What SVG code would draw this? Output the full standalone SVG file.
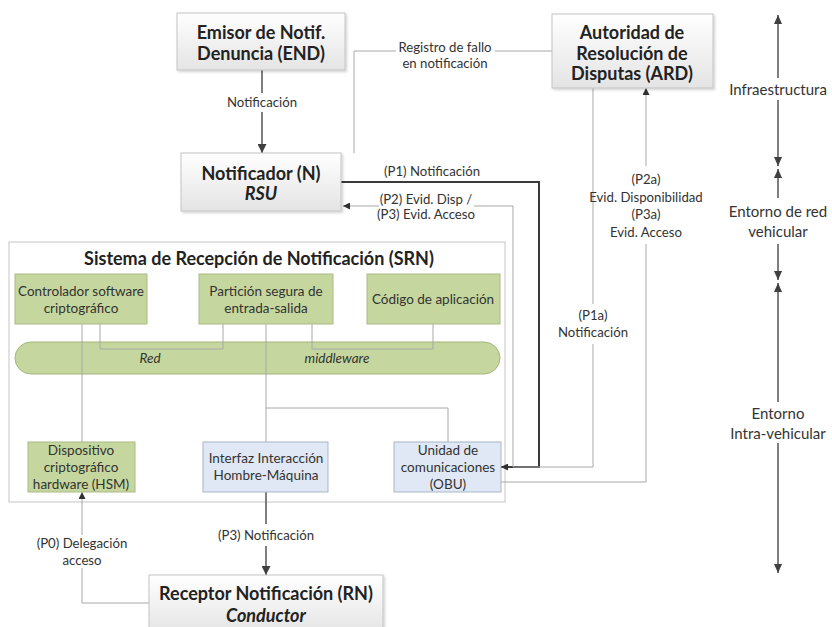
<svg xmlns="http://www.w3.org/2000/svg" width="832" height="627" viewBox="0 0 832 627">
  <defs>
    <linearGradient id="gradGray" x1="0" y1="0" x2="0" y2="1">
      <stop offset="0" stop-color="#ffffff"/>
      <stop offset="1" stop-color="#e4e4e4"/>
    </linearGradient>
    <filter id="shadow" x="-5%" y="-5%" width="115%" height="120%">
      <feDropShadow dx="1.5" dy="1.5" stdDeviation="1.2" flood-color="#000" flood-opacity="0.18"/>
    </filter>
    <marker id="arrowDark" viewBox="0 0 10 10" refX="10" refY="5" markerWidth="9" markerHeight="9" markerUnits="userSpaceOnUse" orient="auto">
      <path d="M0,0 L10,5 L0,10 z" fill="#404040"/>
    </marker>
    <marker id="arrowSmall" viewBox="0 0 10 10" refX="10" refY="5" markerWidth="7" markerHeight="7" markerUnits="userSpaceOnUse" orient="auto">
      <path d="M0,0 L10,5 L0,10 z" fill="#303030"/>
    </marker>
    <marker id="arrowEnv" viewBox="0 0 10 10" refX="10" refY="5" markerWidth="11" markerHeight="9" markerUnits="userSpaceOnUse" orient="auto">
      <path d="M0,0.5 L10,5 L0,9.5 z" fill="#404040"/>
    </marker>
  </defs>
  <style>
    text { font-family: Lato, "Noto Sans", "Liberation Sans", sans-serif; fill: #222; dominant-baseline: central; text-anchor: middle; }
    .title { font-size: 18px; font-weight: bold; }
    .titleI { font-size: 18px; font-weight: bold; font-style: italic; }
    .lbl { font-size: 13.2px; fill: #333; }
    .box { font-size: 13.5px; fill: #333; }
    .it { font-style: italic; }
    .env { font-size: 15px; fill: #333; }
    .gray { fill: url(#gradGray); stroke: #c4c4c4; stroke-width: 1; filter: url(#shadow); }
    .green { fill: #c5d79e; stroke: #a9bb85; stroke-width: 1; }
    .blue { fill: #dfe8f4; stroke: #aab6c6; stroke-width: 1; }
    .frame { fill: #ffffff; stroke: #cfcfcf; stroke-width: 1.2; }
    .thin { fill: none; stroke: #a8a8a8; stroke-width: 1; }
    .mid { fill: none; stroke: #555; stroke-width: 1.5; }
    .thick { fill: none; stroke: #3a3a3a; stroke-width: 2; }
    .envline { fill: none; stroke: #555; stroke-width: 1.5; }
  </style>

  <!-- Receiving system frame -->
  <g id="srn">
    <rect class="frame" x="9" y="242" width="496" height="260"/>
    <text class="title" x="259" y="258">Sistema de Recepción de Notificación (SRN)</text>
  </g>

  <!-- middleware bus -->
  <g id="middleware">
    <rect x="15" y="342" width="485" height="32" rx="16" ry="16" fill="#c5d79e" stroke="#a3b57c" stroke-width="1"/>
    <text class="box it" x="150" y="358">Red</text>
    <text class="box it" x="337" y="358">middleware</text>
  </g>

  <!-- connectors -->
  <g id="connectors">
    <!-- END to N -->
    <path class="mid" d="M262,70 V93"/>
    <path class="mid" d="M262,112 V153" marker-end="url(#arrowDark)"/>
    <!-- failure log N to ARD -->
    <path class="thin" d="M354,153 V51 H396"/>
    <path class="thin" d="M495,51 H552"/>
    <!-- P1 N to OBU -->
    <path class="thick" d="M341,182 H539 V467 H501" marker-end="url(#arrowSmall)"/>
    <!-- P2/P3 OBU to N -->
    <path class="thin" d="M539,467 H513 V206 H474"/>
    <path class="thin" d="M379,206 H343" marker-end="url(#arrowSmall)"/>
    <!-- P1a ARD to OBU -->
    <path class="thin" d="M593,88 V304"/>
    <path class="thin" d="M593,344 V467 H539"/>
    <!-- P2a/P3a OBU to ARD -->
    <path class="thin" d="M501,482 H646 V244"/>
    <path class="thin" d="M646,166 V88" marker-end="url(#arrowSmall)"/>
    <!-- internal links -->
    <path class="thin" d="M100,324 V349 H223 V324"/>
    <path class="thin" d="M312,324 V349 H433 V324"/>
    <path class="thin" d="M82,324 V442"/>
    <path class="thin" d="M266,324 V442"/>
    <path class="thin" d="M266,408 H448 V442"/>
    <!-- P3 interface to RN -->
    <path class="mid" d="M266,492 V524"/>
    <path class="mid" d="M266,546 V575" marker-end="url(#arrowDark)"/>
    <!-- P0 RN to HSM -->
    <path class="thin" d="M149,603 H82 V568"/>
    <path class="thin" d="M82,535 V492" marker-end="url(#arrowSmall)"/>
    <!-- environment ranges -->
    <path class="envline" d="M778,78 V15" marker-end="url(#arrowEnv)"/>
    <path class="envline" d="M778,100 V166" marker-end="url(#arrowEnv)"/>
    <path class="envline" d="M778,198 V169" marker-end="url(#arrowEnv)"/>
    <path class="envline" d="M778,244 V280" marker-end="url(#arrowEnv)"/>
    <path class="envline" d="M778,402 V283" marker-end="url(#arrowEnv)"/>
    <path class="envline" d="M778,443 V573" marker-end="url(#arrowEnv)"/>
  </g>

  <!-- connector labels -->
  <g id="labels">
    <text class="lbl" x="262" y="102">Notificación</text>
    <text class="lbl" x="445" y="47">Registro de fallo</text>
    <text class="lbl" x="445" y="63">en notificación</text>
    <text class="lbl" x="432" y="171">(P1) Notificación</text>
    <text class="lbl" x="426" y="199">(P2) Evid. Disp /</text>
    <text class="lbl" x="426" y="214">(P3) Evid. Acceso</text>
    <text class="lbl" x="646" y="179">(P2a)</text>
    <text class="lbl" x="646" y="197">Evid. Disponibilidad</text>
    <text class="lbl" x="646" y="214">(P3a)</text>
    <text class="lbl" x="646" y="232">Evid. Acceso</text>
    <text class="lbl" x="593" y="315">(P1a)</text>
    <text class="lbl" x="593" y="332">Notificación</text>
    <text class="lbl" x="266" y="535">(P3) Notificación</text>
    <text class="lbl" x="82" y="543">(P0) Delegación</text>
    <text class="lbl" x="82" y="560">acceso</text>
    <text class="env" x="778" y="89">Infraestructura</text>
    <text class="env" x="778" y="211">Entorno de red</text>
    <text class="env" x="778" y="231">vehicular</text>
    <text class="env" x="778" y="413">Entorno</text>
    <text class="env" x="778" y="433">Intra-vehicular</text>
  </g>

  <!-- top-level actors -->
  <g id="end">
    <rect class="gray" x="177" y="13" width="168" height="57"/>
    <text class="title" x="261" y="32">Emisor de Notif.</text>
    <text class="title" x="261" y="53">Denuncia (END)</text>
  </g>
  <g id="notificador">
    <rect class="gray" x="181" y="153" width="160" height="58"/>
    <text class="title" x="261" y="173">Notificador (N)</text>
    <text class="titleI" x="261" y="193">RSU</text>
  </g>
  <g id="ard">
    <rect class="gray" x="552" y="14" width="161" height="74"/>
    <text class="title" x="632" y="32">Autoridad de</text>
    <text class="title" x="632" y="53">Resolución de</text>
    <text class="title" x="632" y="73">Disputas (ARD)</text>
  </g>
  <g id="rn">
    <rect class="gray" x="149" y="575" width="234" height="60"/>
    <text class="title" x="266" y="593">Receptor Notificación (RN)</text>
    <text class="titleI" x="266" y="615">Conductor</text>
  </g>

  <!-- software components -->
  <g id="controlador">
    <rect class="green" x="15" y="274" width="132" height="50"/>
    <text class="box" x="81" y="291">Controlador software</text>
    <text class="box" x="81" y="308">criptográfico</text>
  </g>
  <g id="particion">
    <rect class="green" x="199" y="274" width="134" height="50"/>
    <text class="box" x="266" y="291">Partición segura de</text>
    <text class="box" x="266" y="308">entrada-salida</text>
  </g>
  <g id="codigo">
    <rect class="green" x="367" y="274" width="133" height="50"/>
    <text class="box" x="433" y="299">Código de aplicación</text>
  </g>

  <!-- hardware components -->
  <g id="hsm">
    <rect class="green" x="28" y="442" width="107" height="50"/>
    <text class="box" x="81" y="450">Dispositivo</text>
    <text class="box" x="81" y="467">criptográfico</text>
    <text class="box" x="81" y="484">hardware (HSM)</text>
  </g>
  <g id="interfaz">
    <rect class="blue" x="203" y="442" width="125" height="50"/>
    <text class="box" x="266" y="458">Interfaz Interacción</text>
    <text class="box" x="266" y="475">Hombre-Máquina</text>
  </g>
  <g id="obu">
    <rect class="blue" x="394" y="442" width="107" height="50"/>
    <text class="box" x="448" y="450">Unidad de</text>
    <text class="box" x="448" y="467">comunicaciones</text>
    <text class="box" x="448" y="484">(OBU)</text>
  </g>
</svg>
